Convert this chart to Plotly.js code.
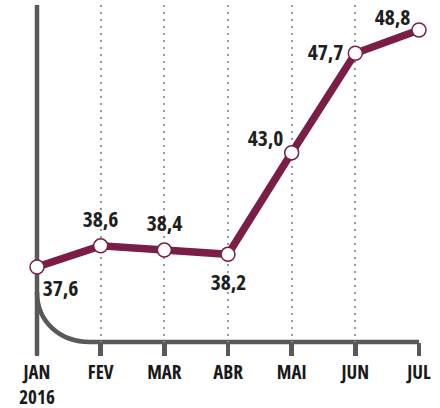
<!DOCTYPE html>
<html>
<head>
<meta charset="utf-8">
<script src="https://cdn.plot.ly/plotly-3.0.1.min.js"></script>
<style>html,body{margin:0;padding:0;background:#fff;}#chart{width:440px;height:408px;}
.main-svg text{font-stretch:80% !important;}</style>
</head>
<body>
<div id="chart"></div>
<script>
const months = ['JAN', 'FEV', 'MAR', 'ABR', 'MAI', 'JUN', 'JUL'];
const tickLabels = ['JAN<br>2016', 'FEV', 'MAR', 'ABR', 'MAI', 'JUN', 'JUL'];
const values = [37.6, 38.6, 38.4, 38.2, 43.0, 47.7, 48.8];

const FONT = '"Open Sans", "Roboto", sans-serif';
const LINE = '#7a1e48';
const AXIS = '#595959';

const W = 440, H = 408;
const M = {l: 37, r: 21, t: 5, b: 66};
const PW = W - M.l - M.r, PH = H - M.t - M.b;
const X = px => (px - M.l) / PW;
const Y = py => (H - M.b - py) / PH;

const xIdx = months.map((m, i) => i);

// label offsets (pixels) relative to each point
const shifts = [[23, -20], [0, 27], [0, 28], [0, -27], [-26, 15], [-30, 2], [-27, 13]];

const annotations = values.map((v, i) => ({
  x: xIdx[i], y: v, xref: 'x', yref: 'y',
  text: v.toFixed(1).replace('.', ','),
  showarrow: false,
  xshift: shifts[i][0], yshift: shifts[i][1],
  font: {family: FONT, size: 21.5, color: '#1f1f1f', weight: 'bold'}
}));

const shapes = [
  {type: 'path', xref: 'paper', yref: 'paper', layer: 'below',
   path: `M ${X(37)},${Y(5)} L ${X(37)},${Y(355)}`,
   line: {color: AXIS, width: 4.5}},
  {type: 'path', xref: 'paper', yref: 'paper', layer: 'below',
   path: `M ${X(37)},${Y(292)} C ${X(37)},${Y(322)} ${X(60)},${Y(342)} ${X(90)},${Y(342)} L ${X(419)},${Y(342)}`,
   line: {color: AXIS, width: 4.5}}
];

const trace = {
  x: xIdx, y: values, type: 'scatter', mode: 'lines+markers',
  cliponaxis: false,
  line: {color: LINE, width: 7.5},
  marker: {size: 14, color: '#fff', line: {color: LINE, width: 1.5}},
  hoverinfo: 'skip'
};

const layout = {
  width: W, height: H,
  margin: M,
  paper_bgcolor: '#fff', plot_bgcolor: '#fff',
  showlegend: false,
  xaxis: {
    range: [0, 6], fixedrange: true,
    tickmode: 'array', tickvals: xIdx, ticktext: tickLabels,
    showline: false, zeroline: false,
    showgrid: true, gridcolor: '#9a9a9a', gridwidth: 2, griddash: '2px,5px',
    ticks: 'outside', ticklen: 13, tickwidth: 4.5, tickcolor: AXIS,
    tickfont: {family: FONT, size: 19, color: '#1a1a1a', weight: 'bold'}
  },
  yaxis: {
    range: [34.056, 49.98], fixedrange: true,
    showgrid: false, zeroline: false, showline: false,
    showticklabels: false, ticks: ''
  },
  annotations: annotations,
  shapes: shapes
};

Plotly.newPlot('chart', [trace], layout, {displayModeBar: false, staticPlot: true});
</script>
</body>
</html>
